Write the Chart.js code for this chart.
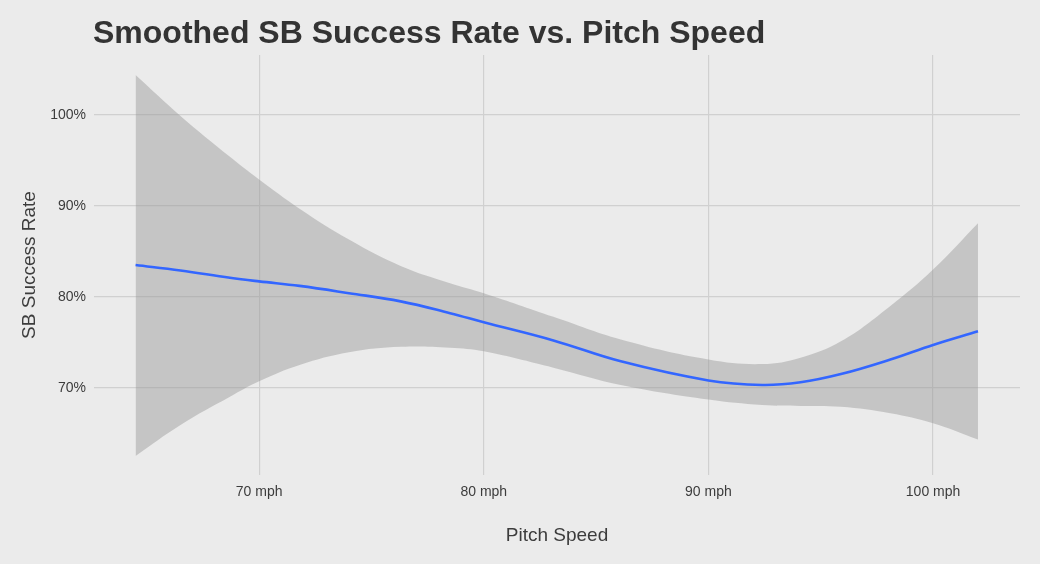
<!DOCTYPE html>
<html>
<head>
<meta charset="utf-8">
<script src="https://cdn.jsdelivr.net/npm/chart.js@4"></script>
<style>
  html, body { margin: 0; padding: 0; background: #ebebeb; }
  #wrap { width: 1040px; height: 564px; position: relative; }
</style>
</head>
<body>
<div id="wrap"><canvas id="sbChart"></canvas></div>
<script>
const chartTitle = 'Smoothed SB Success Rate vs. Pitch Speed';

const speeds = [64.5, 66.5, 68.7, 70, 71.8, 74, 76.3, 78.5, 80, 83.1, 86.1, 90, 92.4, 94.1, 95.9, 98.1, 100, 102];
// smoothed SB success rate (%)
const fitRate = [83.5, 82.9, 82.1, 81.7, 81.2, 80.4, 79.5, 78.2, 77.2, 75.2, 72.9, 70.8, 70.3, 70.6, 71.5, 73.1, 74.7, 76.2];
// confidence band (%)
const upperRate = [104.4, 99.9, 95.4, 92.9, 89.7, 86.3, 83.4, 81.5, 80.4, 77.8, 75.3, 73.1, 72.6, 73.3, 75.1, 79.0, 83.0, 88.1];
const lowerRate = [62.5, 65.9, 69.0, 70.7, 72.5, 73.9, 74.5, 74.4, 74.0, 72.2, 70.3, 68.7, 68.1, 68.0, 67.9, 67.2, 66.1, 64.3];

const xTicks = [70, 80, 90, 100];
const yTicks = [70, 80, 90, 100];

const toPoints = (vals) => speeds.map((s, i) => ({ x: s, y: vals[i] }));

const fontFamily = '"Liberation Sans", Arial, sans-serif';

// title drawn left-aligned with the plot panel
const titlePlugin = {
  id: 'leftTitle',
  afterDraw(chart) {
    const ctx = chart.ctx;
    ctx.save();
    ctx.font = 'bold 32px ' + fontFamily;
    ctx.fillStyle = '#333333';
    ctx.textBaseline = 'alphabetic';
    ctx.fillText(chartTitle, chart.chartArea.left - 1, 43);
    ctx.restore();
  }
};

new Chart(document.getElementById('sbChart'), {
  type: 'line',
  data: {
    datasets: [
      {
        label: 'upper',
        data: toPoints(upperRate),
        borderWidth: 0,
        pointRadius: 0,
        backgroundColor: 'rgba(150, 150, 150, 0.45)',
        fill: '+1',
        order: 2,
        tension: 0.4
      },
      {
        label: 'lower',
        data: toPoints(lowerRate),
        borderWidth: 0,
        pointRadius: 0,
        fill: false,
        order: 3,
        tension: 0.4
      },
      {
        label: 'SB Success Rate',
        data: toPoints(fitRate),
        borderColor: '#3366ff',
        borderWidth: 2.6,
        pointRadius: 0,
        fill: false,
        order: 0,
        tension: 0.4
      }
    ]
  },
  options: {
    responsive: true,
    maintainAspectRatio: false,
    animation: false,
    layout: { padding: { left: 0, top: 55, right: 20, bottom: 0 } },
    plugins: {
      legend: { display: false },
      title: { display: false },
      tooltip: { enabled: false }
    },
    scales: {
      x: {
        type: 'linear',
        min: 62.65,
        max: 103.87,
        border: { display: false },
        grid: { color: '#d0d0d0', lineWidth: 1.2, drawTicks: false },
        afterBuildTicks: (scale) => { scale.ticks = xTicks.map(v => ({ value: v })); },
        afterFit: (scale) => { scale.height = 89; },
        ticks: {
          padding: 9,
          color: '#3c3c3c',
          font: { family: fontFamily, size: 14 },
          callback: (v) => v + ' mph'
        },
        title: {
          display: true,
          text: 'Pitch Speed',
          color: '#3c3c3c',
          font: { family: fontFamily, size: 19 },
          padding: { top: 0, bottom: 17 }
        }
      },
      y: {
        min: 60.4,
        max: 106.6,
        border: { display: false },
        grid: { color: '#d0d0d0', lineWidth: 1.2, drawTicks: false },
        afterBuildTicks: (scale) => { scale.ticks = yTicks.map(v => ({ value: v })); },
        afterFit: (scale) => { scale.width = 94; },
        ticks: {
          padding: 8,
          color: '#3c3c3c',
          font: { family: fontFamily, size: 14 },
          callback: (v) => v + '%'
        },
        title: {
          display: true,
          text: 'SB Success Rate',
          color: '#3c3c3c',
          font: { family: fontFamily, size: 19 },
          padding: { top: 18, bottom: 0 }
        }
      }
    }
  },
  plugins: [titlePlugin]
});
</script>
</body>
</html>
